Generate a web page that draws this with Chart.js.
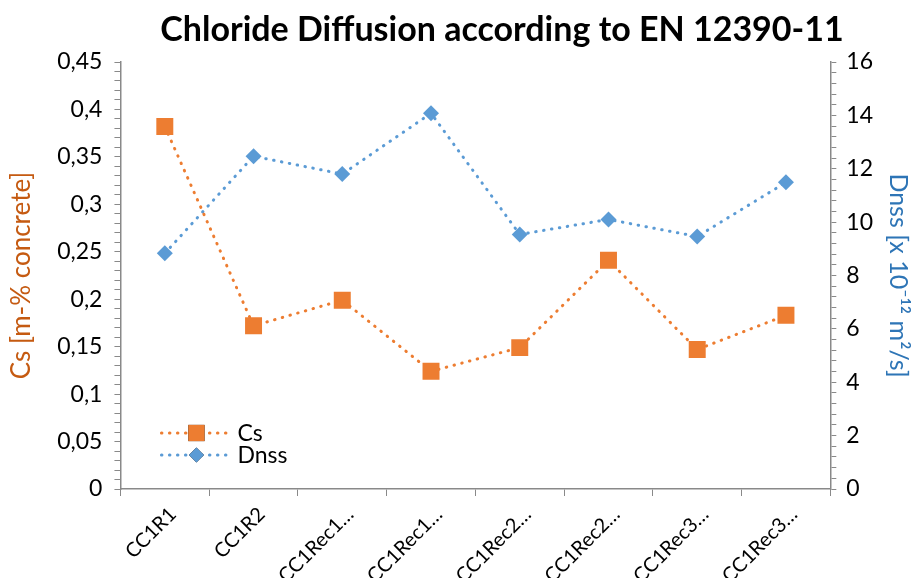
<!DOCTYPE html>
<html>
<head>
<meta charset="utf-8">
<script src="https://cdn.jsdelivr.net/npm/chart.js@4.4.1/dist/chart.umd.min.js"></script>
<style>
  html, body { margin: 0; padding: 0; background: #fff; }
  #wrap { width: 923px; height: 578px; }
</style>
</head>
<body>
<div id="wrap"><canvas id="c" width="923" height="578"></canvas></div>
<script>
// Samples (x axis)
const categories = ['CC1R1', 'CC1R2', 'CC1Rec1…', 'CC1Rec1…', 'CC1Rec2…', 'CC1Rec2…', 'CC1Rec3…', 'CC1Rec3…'];
// Surface chloride content Cs [m-% concrete] (left axis)
const csValues = [0.382, 0.172, 0.199, 0.124, 0.149, 0.241, 0.147, 0.183];
// Non-steady-state diffusion coefficient Dnss [x 10^-12 m²/s] (right axis)
const dnssValues = [8.83, 12.47, 11.8, 14.08, 9.54, 10.1, 9.46, 11.49];

const TITLE = 'Chloride Diffusion according to EN 12390-11';
const ORANGE = '#ED7D31';
const BLUE = '#5B9BD5';
const AXIS = '#898989';
const FONT = 'Lato, "Open Sans", sans-serif';

// Title drawn above the plot, centred a little right of the canvas middle
const topTitle = {
  id: 'topTitle',
  afterDraw(chart) {
    const ctx = chart.ctx;
    ctx.save();
    ctx.fillStyle = '#000';
    ctx.font = 'bold 34px ' + FONT;
    ctx.textAlign = 'center';
    ctx.textBaseline = 'middle';
    ctx.fillText(TITLE, 502, 30);
    ctx.restore();
  }
};

// Category labels under the x axis, turned 45° and ending at each category centre
const slantedLabels = {
  id: 'slantedLabels',
  afterDraw(chart) {
    const ctx = chart.ctx;
    const xs = chart.scales.x;
    ctx.save();
    ctx.fillStyle = '#000';
    ctx.font = '20px ' + FONT;
    ctx.textAlign = 'right';
    ctx.textBaseline = 'middle';
    categories.forEach((label, i) => {
      const x = xs.getPixelForValue(i) + 8;
      const y = xs.top + 22;
      ctx.save();
      ctx.translate(x, y);
      ctx.rotate(-Math.PI / 4);
      ctx.fillText(label, 0, 0);
      ctx.restore();
    });
    ctx.restore();
  }
};

// Legend drawn inside the plot area, lower left
const innerLegend = {
  id: 'innerLegend',
  afterDraw(chart) {
    const ctx = chart.ctx;
    const area = chart.chartArea;
    const x0 = area.left + 41, x1 = area.left + 111;
    const rows = [
      { y: 433, text: 'Cs', color: ORANGE, style: 'rect', r: 11.5 },
      { y: 455, text: 'Dnss', color: BLUE, style: 'rectRot', r: 7.5 }
    ];
    ctx.save();
    rows.forEach(row => {
      ctx.strokeStyle = row.color;
      ctx.lineWidth = 3;
      ctx.lineCap = 'round';
      ctx.setLineDash([0.5, 7.5]);
      ctx.beginPath();
      ctx.moveTo(x0, row.y);
      ctx.lineTo(x1, row.y);
      ctx.stroke();
      ctx.setLineDash([]);
      Chart.helpers.drawPoint(ctx, { pointStyle: row.style, radius: row.r, borderWidth: 0, rotation: 0 }, (x0 + x1) / 2, row.y);
      ctx.fillStyle = row.color;
      ctx.fill();
      ctx.fillStyle = '#000';
      ctx.font = '23px ' + FONT;
      ctx.textBaseline = 'middle';
      ctx.textAlign = 'left';
      ctx.fillText(row.text, x1 + 6, row.y + 1);
    });
    ctx.restore();
  }
};

function commaLabel(v, decimals) {
  return String(Number(v.toFixed(decimals))).replace('.', ',');
}

new Chart(document.getElementById('c'), {
  type: 'line',
  data: {
    labels: categories,
    datasets: [
      {
        label: 'Cs',
        data: csValues,
        yAxisID: 'yCs',
        borderColor: ORANGE,
        backgroundColor: ORANGE,
        borderWidth: 3,
        borderDash: [0.5, 7.5],
        borderCapStyle: 'round',
        pointStyle: 'rect',
        pointRadius: 12,
        pointBorderWidth: 0,
        tension: 0
      },
      {
        label: 'Dnss',
        data: dnssValues,
        yAxisID: 'yD',
        borderColor: BLUE,
        backgroundColor: BLUE,
        borderWidth: 3,
        borderDash: [0.5, 7.5],
        borderCapStyle: 'round',
        pointStyle: 'rectRot',
        pointRadius: 8,
        pointBorderWidth: 0,
        tension: 0
      }
    ]
  },
  options: {
    responsive: false,
    animation: false,
    devicePixelRatio: 1,
    layout: { padding: { top: 62, right: 2, left: 6, bottom: 82 } },
    plugins: {
      legend: { display: false },
      tooltip: { enabled: false },
      title: { display: false }
    },
    scales: {
      x: {
        type: 'category',
        offset: true,
        grid: { display: true, drawOnChartArea: false, offset: true, tickLength: 7, color: AXIS, tickColor: AXIS },
        border: { display: true, color: AXIS, width: 1.5 },
        ticks: { display: false }
      },
      yCs: {
        position: 'left',
        min: 0, max: 0.45,
        afterBuildTicks(scale) {
          const t = [];
          for (let i = 0; i <= 45; i++) t.push({ value: i / 100 });
          scale.ticks = t;
        },
        grid: { drawOnChartArea: false, tickLength: 6, color: AXIS, tickColor: AXIS },
        border: { display: true, color: AXIS, width: 1.5 },
        ticks: {
          color: '#000',
          font: { family: FONT, size: 23 },
          autoSkip: false,
          padding: 12,
          callback(v) {
            const k = Math.round(v * 100);
            return k % 5 === 0 ? commaLabel(v, 2) : '';
          }
        },
        title: {
          display: true,
          text: 'Cs [m-% concrete]',
          color: '#C55A11',
          font: { family: FONT, size: 26 },
          padding: { top: 0, bottom: 8 }
        }
      },
      yD: {
        position: 'right',
        min: 0, max: 16,
        afterBuildTicks(scale) {
          const t = [];
          for (let i = 0; i <= 40; i++) t.push({ value: i * 0.4 });
          scale.ticks = t;
        },
        grid: { drawOnChartArea: false, tickLength: 6, color: AXIS, tickColor: AXIS },
        border: { display: true, color: AXIS, width: 1.5 },
        ticks: {
          color: '#000',
          font: { family: FONT, size: 23 },
          autoSkip: false,
          padding: 10,
          callback(v) {
            const k = Math.round(v * 10);
            return k % 20 === 0 ? String(Math.round(v)) : '';
          }
        },
        title: {
          display: true,
          text: 'Dnss [x 10⁻¹² m²/s]',
          color: '#2E75B6',
          font: { family: FONT, size: 25 },
          padding: { top: 8, bottom: 0 }
        }
      }
    }
  },
  plugins: [topTitle, slantedLabels, innerLegend]
});
</script>
</body>
</html>
